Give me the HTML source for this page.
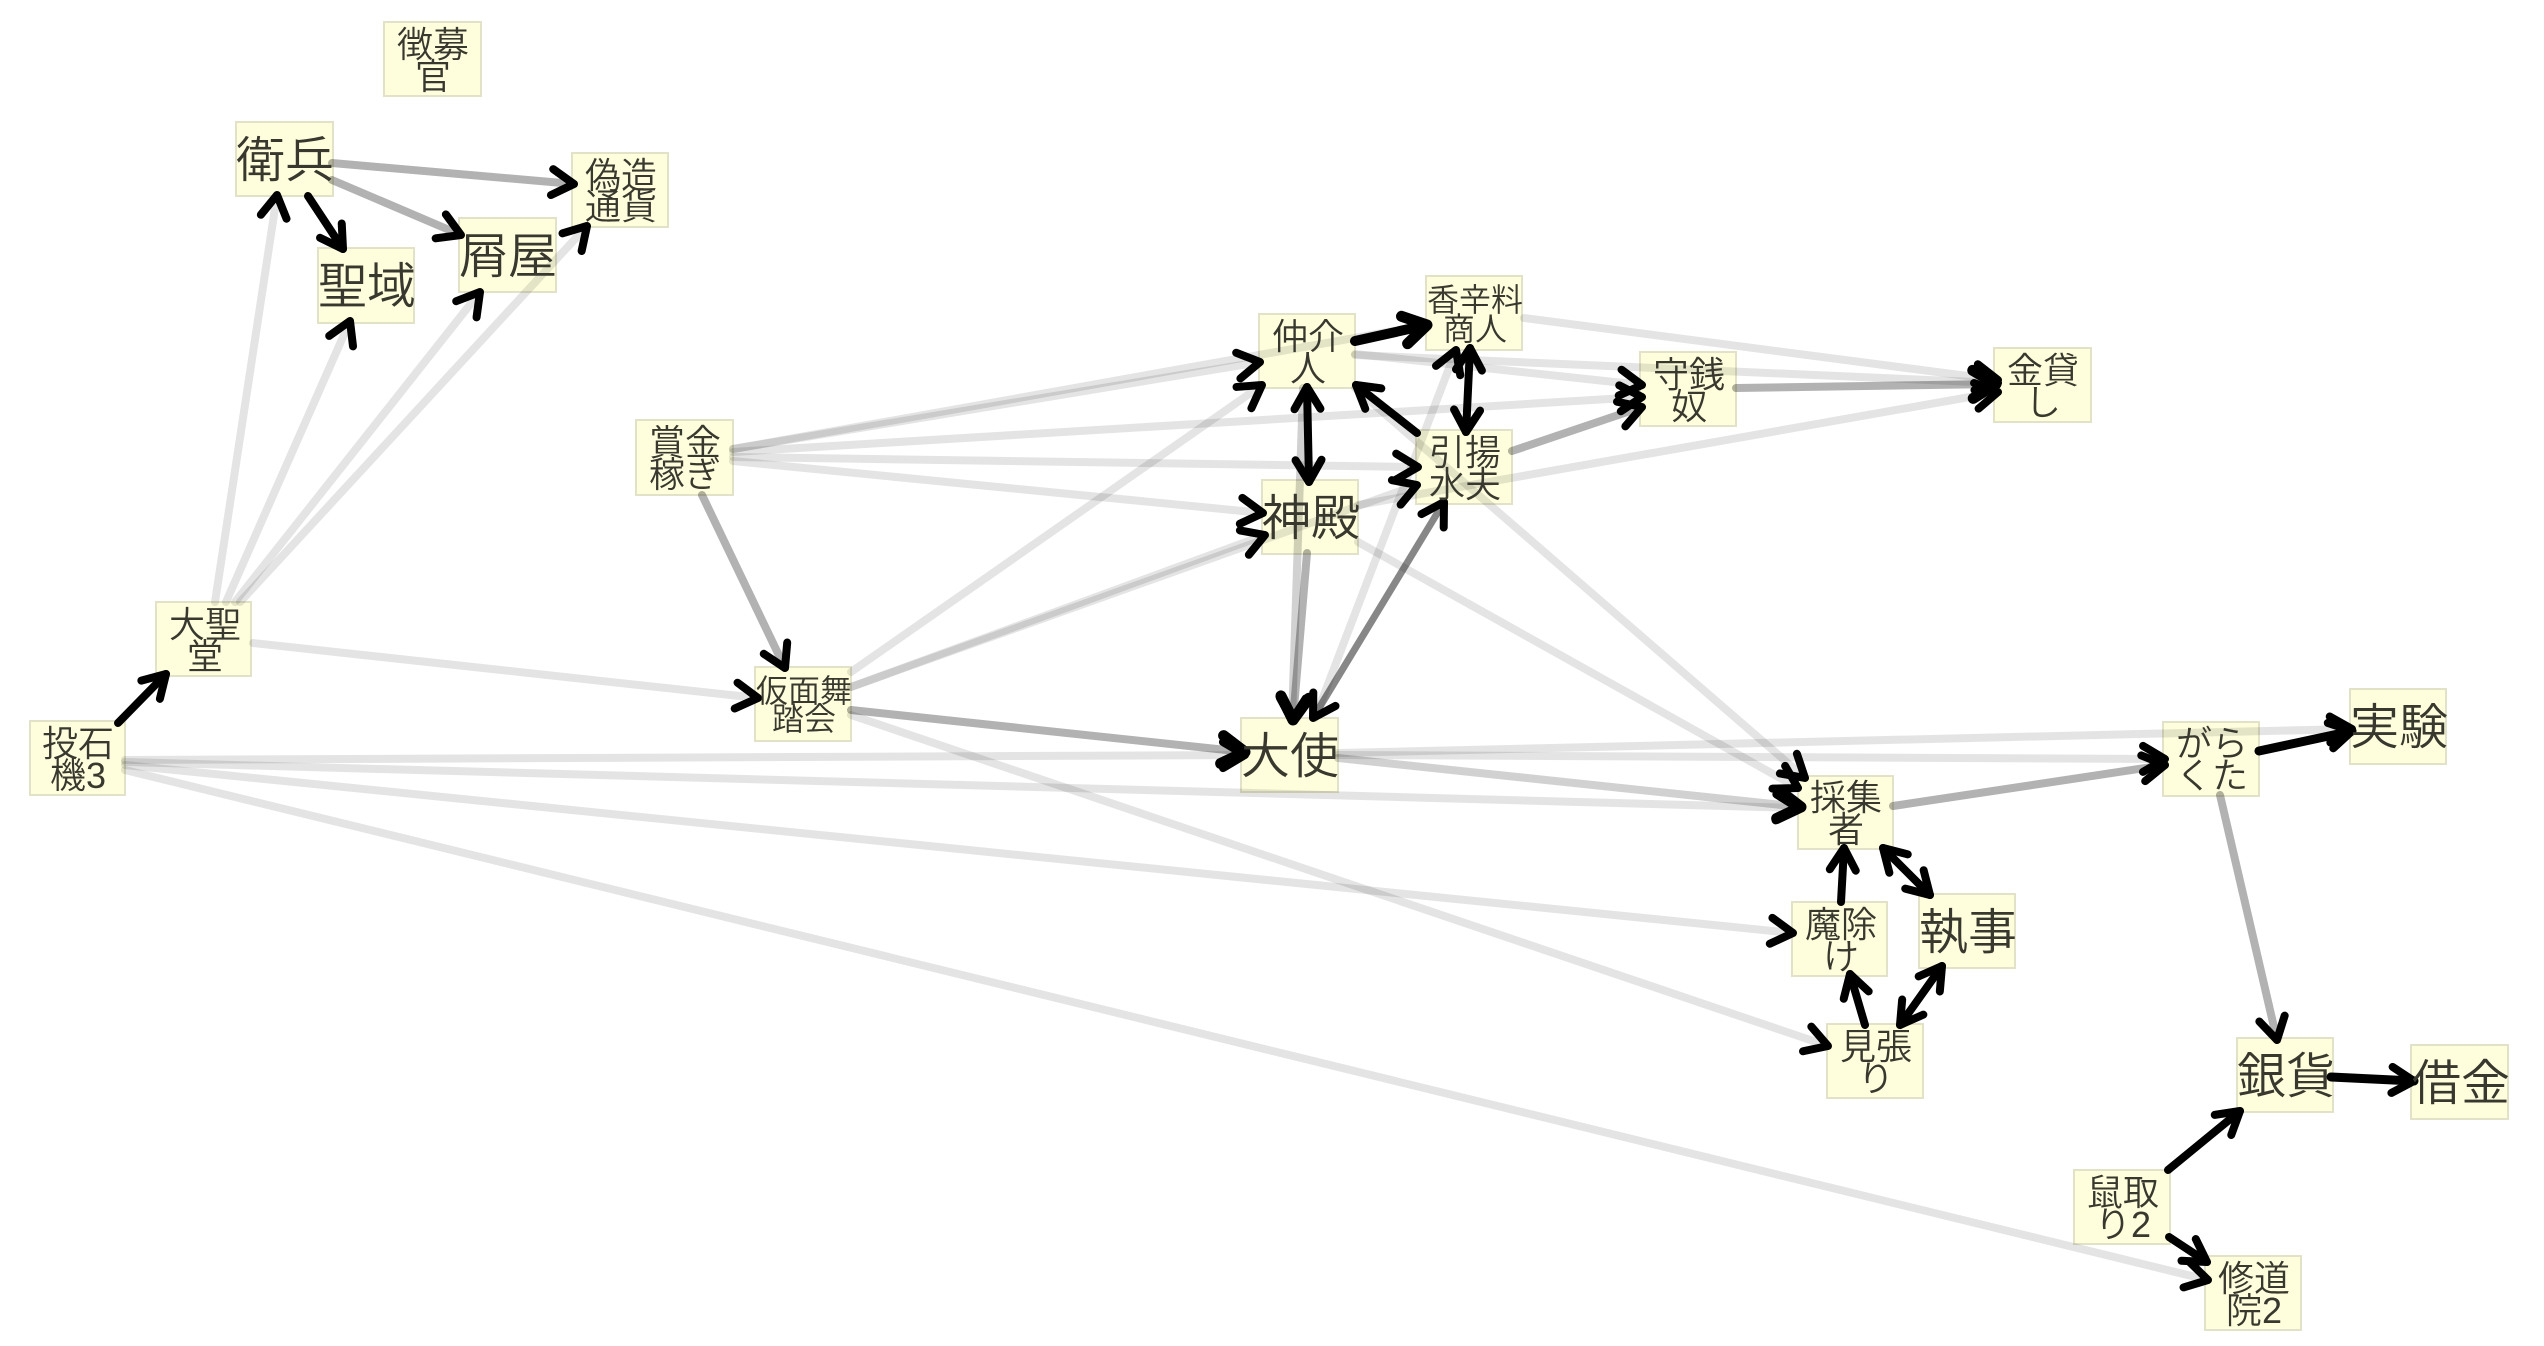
<!DOCTYPE html>
<html lang="ja"><head><meta charset="utf-8"><title>diagram</title>
<style>
html,body{margin:0;padding:0;background:#fff}
svg{display:block}
text{font-family:"Liberation Sans","Noto Sans CJK JP",sans-serif;font-weight:350;fill:#38382f;text-anchor:middle;transform:translateX(1px)}
.s{font-size:36px}.m{font-size:32px}.l{font-size:49px}
rect{fill:#fefedd;stroke:#e2e2c8;stroke-width:2}
line{stroke-linecap:round;fill:none;marker-end:url(#a)}
.x{stroke:rgba(0,0,0,.105);stroke-width:8}
.g{stroke:rgba(0,0,0,.3);stroke-width:8}
.h{stroke:rgba(0,0,0,.18);stroke-width:8}
.d{stroke:rgba(0,0,0,.47);stroke-width:7}
.k{stroke:#000;stroke-width:8}
.b{marker-start:url(#b)}
.t{marker-end:url(#c)}
</style></head><body>
<svg width="2544" height="1346" viewBox="0 0 2544 1346" xmlns="http://www.w3.org/2000/svg">
<defs>
<marker id="a" markerUnits="userSpaceOnUse" markerWidth="50" markerHeight="50" refX="36" refY="25" orient="auto"><path d="M14,12 L36,25 L14,38" fill="none" stroke="#000" stroke-width="8" stroke-linecap="round" stroke-linejoin="round"/></marker>
<marker id="b" markerUnits="userSpaceOnUse" markerWidth="50" markerHeight="50" refX="14" refY="25" orient="auto"><path d="M36,12 L14,25 L36,38" fill="none" stroke="#000" stroke-width="8" stroke-linecap="round" stroke-linejoin="round"/></marker>
<marker id="c" markerUnits="userSpaceOnUse" markerWidth="50" markerHeight="50" refX="36" refY="25" orient="auto"><path d="M13,11 L36,25 L13,39" fill="none" stroke="#000" stroke-width="11" stroke-linecap="round" stroke-linejoin="round"/></marker>
</defs>
<rect x="384" y="22" width="97" height="74"/><rect x="236" y="122" width="97" height="74"/><rect x="572" y="153" width="96" height="74"/><rect x="459" y="218" width="97" height="74"/><rect x="318" y="248" width="96" height="75"/><rect x="1259" y="314" width="96" height="74"/><rect x="1426" y="276" width="96" height="74"/><rect x="1640" y="352" width="96" height="74"/><rect x="1994" y="348" width="97" height="74"/><rect x="1416" y="430" width="96" height="74"/><rect x="1262" y="480" width="96" height="74"/><rect x="636" y="420" width="97" height="75"/><rect x="156" y="602" width="95" height="74"/><rect x="30" y="721" width="95" height="74"/><rect x="755" y="667" width="96" height="74"/><rect x="1241" y="718" width="97" height="74"/><rect x="1798" y="776" width="95" height="73"/><rect x="2163" y="722" width="96" height="74"/><rect x="2350" y="689" width="96" height="75"/><rect x="1792" y="902" width="95" height="74"/><rect x="1919" y="894" width="96" height="74"/><rect x="1827" y="1024" width="96" height="74"/><rect x="2237" y="1038" width="96" height="74"/><rect x="2411" y="1045" width="97" height="74"/><rect x="2074" y="1170" width="96" height="74"/><rect x="2205" y="1256" width="96" height="74"/>

<line class="g" x1="332" y1="163" x2="574" y2="184"/>
<line class="g" x1="332" y1="180" x2="461" y2="235"/>
<line class="k" x1="308" y1="196" x2="343" y2="249"/>
<line class="x" x1="215" y1="602" x2="277" y2="195"/>
<line class="x" x1="226" y1="602" x2="350" y2="321"/>
<line class="x" x1="235" y1="602" x2="480" y2="292"/>
<line class="x" x1="240" y1="602" x2="587" y2="226"/>
<line class="k" x1="118" y1="723" x2="166" y2="674"/>
<line class="x" x1="253" y1="643" x2="758" y2="698"/>
<line class="g" x1="702" y1="495" x2="785" y2="668"/>
<line class="x" x1="125" y1="760" x2="1245" y2="755"/>
<line class="x" x1="125" y1="762" x2="1798" y2="808"/>
<line class="x" x1="125" y1="765" x2="1793" y2="933"/>
<line class="x" x1="125" y1="770" x2="2208" y2="1280"/>
<line class="x" x1="733" y1="449" x2="1260" y2="362"/>
<line class="x" x1="733" y1="449" x2="1427" y2="325"/>
<line class="x" x1="851" y1="672" x2="1262" y2="385"/>
<line class="k t" style="stroke-width:10" x1="1355" y1="341" x2="1427" y2="325"/>
<line class="k" x1="1417" y1="433" x2="1356" y2="385"/>
<line class="k b" x1="1309" y1="482" x2="1307" y2="387"/>
<line class="k b" x1="1466" y1="432" x2="1470" y2="348"/>
<line class="x" x1="1315" y1="718" x2="1456" y2="350"/>
<line class="d b" x1="1313" y1="718" x2="1444" y2="502"/>
<line class="g t" x1="1307" y1="553" x2="1293" y2="720"/>
<line class="h" x1="1303" y1="388" x2="1292" y2="720"/>
<line class="g" x1="1512" y1="451" x2="1642" y2="407"/>
<line class="x" x1="1355" y1="354" x2="1642" y2="385"/>
<line class="x" x1="1355" y1="355" x2="1998" y2="383"/>
<line class="x" x1="733" y1="452" x2="1642" y2="397"/>
<line class="x" x1="1524" y1="318" x2="1998" y2="380"/>
<line class="x" x1="1358" y1="505" x2="1998" y2="392"/>
<line class="g t" x1="1736" y1="388" x2="1996" y2="384"/>
<line class="x" x1="733" y1="457" x2="1418" y2="467"/>
<line class="x" x1="851" y1="687" x2="1417" y2="485"/>
<line class="x" x1="733" y1="461" x2="1263" y2="513"/>
<line class="x" x1="851" y1="687" x2="1265" y2="535"/>
<line class="x" x1="1358" y1="542" x2="1798" y2="788"/>
<line class="x" x1="1355" y1="388" x2="1805" y2="778"/>
<line class="x" x1="851" y1="715" x2="1828" y2="1046"/>
<line class="g t" x1="851" y1="710" x2="1245" y2="752"/>
<line class="h t" x1="1338" y1="758" x2="1801" y2="807"/>
<line class="x" x1="1338" y1="755" x2="2165" y2="759"/>
<line class="x" x1="1338" y1="753" x2="2352" y2="729"/>
<line class="g" x1="1893" y1="806" x2="2165" y2="765"/>
<line class="k" style="stroke-width:9" x1="2259" y1="751" x2="2352" y2="731"/>
<line class="g" x1="2220" y1="795" x2="2277" y2="1040"/>
<line class="k" style="stroke-width:9" x1="2331" y1="1077" x2="2414" y2="1081"/>
<line class="k" x1="2168" y1="1170" x2="2240" y2="1111"/>
<line class="k" x1="2169" y1="1237" x2="2207" y2="1262"/>
<line class="k" x1="1841" y1="902" x2="1844" y2="848"/>
<line class="k" x1="1865" y1="1025" x2="1850" y2="974"/>
<line class="k b" x1="1930" y1="895" x2="1883" y2="848"/>
<line class="k b" x1="1900" y1="1025" x2="1942" y2="966"/>

<text class="s" x="432" y="57">徴募</text><text class="s" x="432" y="89">官</text>
<text class="l" x="284" y="177">衛兵</text>
<text class="s" x="620" y="188">偽造</text><text class="s" x="620" y="219">通貨</text>
<text class="l" x="507" y="273">屑屋</text>
<text class="l" x="366" y="303">聖域</text>
<text class="s" x="1307" y="349">仲介</text><text class="s" x="1307" y="381">人</text>
<text class="m" x="1474" y="311">香辛料</text><text class="m" x="1474" y="340">商人</text>
<text class="s" x="1688" y="387">守銭</text><text class="s" x="1688" y="419">奴</text>
<text class="s" x="2042" y="383">金貸</text><text class="s" x="2042" y="415">し</text>
<text class="s" x="1464" y="465">引揚</text><text class="s" x="1464" y="497">水夫</text>
<text class="l" x="1310" y="535">神殿</text>
<text class="s" x="684" y="455">賞金</text><text class="s" x="684" y="487">稼ぎ</text>
<text class="s" x="204" y="637">大聖</text><text class="s" x="204" y="669">堂</text>
<text class="s" x="77" y="756">投石</text><text class="s" x="77" y="788">機3</text>
<text class="m" x="803" y="702">仮面舞</text><text class="m" x="803" y="730">踏会</text>
<text class="l" x="1289" y="773">大使</text>
<text class="s" x="1845" y="810">採集</text><text class="s" x="1845" y="842">者</text>
<text class="s" x="2211" y="756">がら</text><text class="s" x="2211" y="788">くた</text>
<text class="l" x="2398" y="744">実験</text>
<text class="s" x="1840" y="937">魔除</text><text class="s" x="1840" y="969">け</text>
<text class="l" x="1967" y="949">執事</text>
<text class="s" x="1875" y="1059">見張</text><text class="s" x="1875" y="1091">り</text>
<text class="l" x="2285" y="1093">銀貨</text>
<text class="l" x="2460" y="1100">借金</text>
<text class="s" x="2122" y="1205">鼠取</text><text class="s" x="2122" y="1237">り2</text>
<text class="s" x="2253" y="1291">修道</text><text class="s" x="2253" y="1323">院2</text>
</svg>
</body></html>
